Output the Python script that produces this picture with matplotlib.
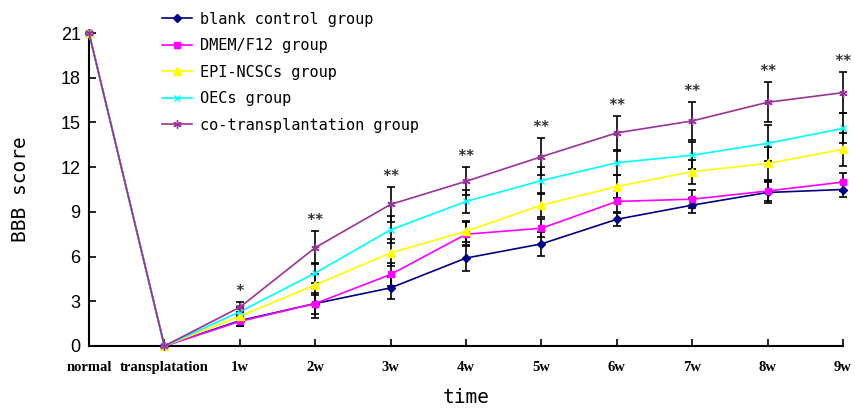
import matplotlib
matplotlib.use("Agg")
import matplotlib.pyplot as plt
import numpy as np

categories = ["normal", "transplatation", "1w", "2w", "3w", "4w", "5w", "6w", "7w", "8w", "9w"]
series_names = ["blank control group", "DMEM/F12 group", "EPI-NCSCs group", "OECs group", "co-transplantation group"]

blank = [21, 0, 1.7, 2.85, 3.9, 5.9, 6.85, 8.5, 9.45, 10.3, 10.5]
dmem = [21, 0, 1.65, 2.85, 4.8, 7.5, 7.9, 9.7, 9.85, 10.4, 11.0]
epi = [21, 0, 2.0, 4.1, 6.25, 7.7, 9.45, 10.7, 11.7, 12.25, 13.2]
oecs = [21, 0, 2.3, 4.9, 7.8, 9.7, 11.1, 12.3, 12.8, 13.6, 14.6]
cotrans = [21, 0, 2.6, 6.6, 9.5, 11.05, 12.7, 14.3, 15.1, 16.35, 17.0]

blank_err = [0, 0, 0.35, 1.0, 0.75, 0.85, 0.8, 0.45, 0.5, 0.7, 0.5]
dmem_err = [0, 0, 0.3, 0.7, 0.8, 0.8, 0.6, 0.7, 0.6, 0.7, 0.6]
epi_err = [0, 0, 0.3, 0.7, 0.9, 0.7, 0.8, 0.8, 0.8, 1.1, 1.1]
oecs_err = [0, 0, 0.3, 0.7, 0.9, 0.8, 0.9, 0.8, 0.9, 1.2, 1.0]
cotrans_err = [0, 0, 0.35, 1.1, 1.2, 0.95, 1.25, 1.15, 1.3, 1.35, 1.4]

sig_labels = ["", "", "*", "**", "**", "**", "**", "**", "**", "**", "**"]
yticks = [0, 3, 6, 9, 12, 15, 18, 21]

colors = ["#000080", "#FF00FF", "#FFFF00", "#00FFFF", "#993399"]
markers = ["D", "s", "^", "x", (6, 2, 0)]
msizes = [4, 5, 6, 5, 6]

data = [blank, dmem, epi, oecs, cotrans]
errs = [blank_err, dmem_err, epi_err, oecs_err, cotrans_err]

fig = plt.figure(figsize=(8.55, 4.08), dpi=100)
ax = fig.add_axes([89/855, 1-346/408, (843-89)/855, (346-33)/408])

x = np.arange(len(categories))
handles = []
for vals, er in zip(data, errs):
    ax.errorbar(x[2:], vals[2:], yerr=er[2:], fmt="none", ecolor="black",
                elinewidth=1.2, capsize=3, capthick=1.2, zorder=2, clip_on=False)
for vals, c, m, ms, name in zip(data, colors, markers, msizes, series_names):
    h, = ax.plot(x, vals, color=c, marker=m, markersize=ms, linewidth=1.2,
                 markeredgecolor=c, label=name, zorder=3, clip_on=False)
    handles.append(h)

# significance labels
for i, s in enumerate(sig_labels):
    if s:
        top = max(d[i] + e[i] for d, e in zip(data, errs))
        ax.text(x[i], top + 0.2, s, ha="center", va="bottom", fontsize=10.5,
                family="DejaVu Sans Mono", fontweight="bold", color="#333333")

ax.set_xlim(0, 10)
ax.set_ylim(0, 21)
ax.set_yticks(yticks)
ax.set_yticklabels([str(t) for t in yticks], family="Liberation Sans", fontsize=13)
ax.set_xticks(x)
ax.set_xticklabels(categories, family="Liberation Serif", fontweight="bold", fontsize=10.5)
ax.tick_params(direction="in", length=5, width=1.2)
ax.tick_params(axis="x", pad=11)
ax.tick_params(axis="y", pad=6)
for sp in ["top", "right"]:
    ax.spines[sp].set_visible(False)
for sp in ["left", "bottom"]:
    ax.spines[sp].set_linewidth(1.5)

ax.set_ylabel("BBB score", family="DejaVu Sans Mono", fontsize=14, labelpad=22)
ax.set_xlabel("time", family="DejaVu Sans Mono", fontsize=14, labelpad=10)

leg = fig.legend(handles=handles, loc="upper left", bbox_to_anchor=(148/855, 1.005),
                 frameon=False, prop={"family": "DejaVu Sans Mono", "size": 11},
                 handlelength=2.0, labelspacing=0.75, handletextpad=0.5)

fig.savefig("out.png", dpi=100)
